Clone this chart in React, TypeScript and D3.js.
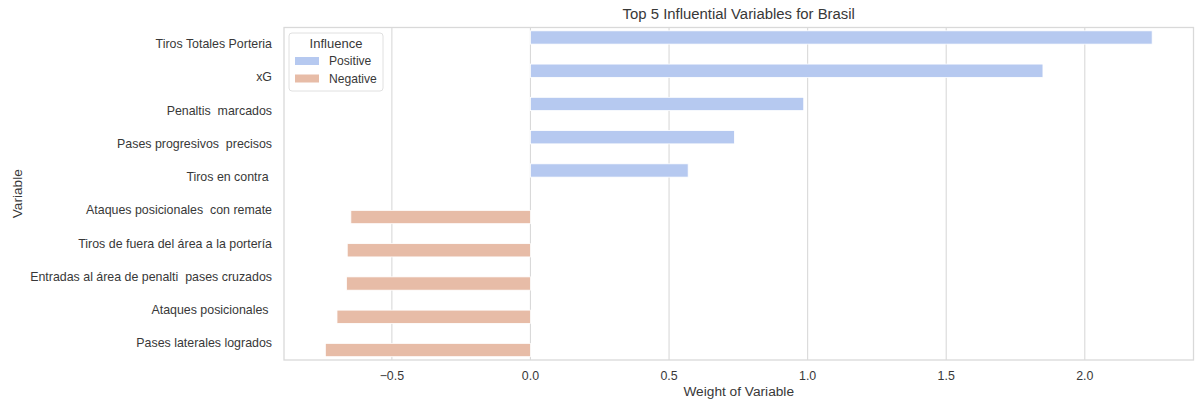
import React from "react";
import * as d3 from "d3";

const categories = [
  "Tiros Totales Porteria",
  "xG",
  "Penaltis  marcados",
  "Pases progresivos  precisos",
  "Tiros en contra ",
  "Ataques posicionales  con remate",
  "Tiros de fuera del área a la portería",
  "Entradas al área de penalti  pases cruzados",
  "Ataques posicionales ",
  "Pases laterales logrados",
];
const weights = [2.243, 1.849, 0.986, 0.736, 0.569, -0.648, -0.661, -0.664, -0.698, -0.740];
const influence = ["Positive", "Positive", "Positive", "Positive", "Positive", "Negative", "Negative", "Negative", "Negative", "Negative"];
const hueLevels = ["Positive", "Negative"];
const hueColors = ["#b6c9f0", "#e7bca7"];
const xTicks = [-0.5, 0, 0.5, 1.0, 1.5, 2.0];

const W = 1197;
const H = 400;
const M = { left: 284, right: 1193.5, top: 27.5, bottom: 360 };
const FONT = "'Liberation Sans', Arial, sans-serif";
const TXT = "#383838";
const GRID = "#d9d9d9";

export default function App() {
  const [lo, hi] = d3.extent(weights) as [number, number];
  const pad = (hi - lo) * 0.05;
  const x = d3.scaleLinear().domain([lo - pad, hi + pad]).range([M.left, M.right]);
  const y = d3.scaleLinear().domain([-0.5, categories.length - 0.5]).range([M.top, M.bottom]);
  const color = d3.scaleOrdinal<string, string>().domain(hueLevels).range(hueColors);
  const fmt = (v: number) => d3.format(".1f")(v).replace("-", "\u2212");
  const bw = 0.4;

  return (
    <svg width={W} height={H} style={{ position: "absolute", left: 0, top: 0, background: "#fff" }} fontFamily={FONT}>
      <rect x={0} y={0} width={W} height={H} fill="#fff" />
      {xTicks.map((t) => (
        <line key={t} x1={x(t)} x2={x(t)} y1={M.top} y2={M.bottom} stroke={GRID} strokeWidth={1.1} />
      ))}
      {categories.map((c, i) => {
        const h = influence[i];
        const hi2 = hueLevels.indexOf(h);
        const yc = i - 0.4 + hi2 * bw;
        const v = weights[i];
        const x0 = x(Math.min(0, v));
        const x1 = x(Math.max(0, v));
        return (
          <rect
            key={c}
            x={x0}
            y={y(yc)}
            width={x1 - x0}
            height={y(yc + bw) - y(yc)}
            fill={color(h)}
            stroke="#ffffff"
            strokeWidth={0.8}
          />
        );
      })}
      <rect x={M.left} y={M.top} width={M.right - M.left} height={M.bottom - M.top} fill="none" stroke={GRID} strokeWidth={1.3} />
      {categories.map((c, i) => (
        <text
          key={c}
          x={M.left - 12}
          y={y(i)}
          textAnchor="end"
          dominantBaseline="central"
          fontSize={12.4}
          fill={TXT}
          style={{ whiteSpace: "pre" }}
        >
          {c}
        </text>
      ))}
      {xTicks.map((t) => (
        <text key={t} x={x(t)} y={376} textAnchor="middle" dominantBaseline="central" fontSize={12.4} fill={TXT}>
          {fmt(t)}
        </text>
      ))}
      <text x={(M.left + M.right) / 2} y={391.5} textAnchor="middle" dominantBaseline="central" fontSize={13.7} fill={TXT}>
        Weight of Variable
      </text>
      <text
        transform={`translate(17,${(M.top + M.bottom) / 2}) rotate(-90)`}
        textAnchor="middle"
        dominantBaseline="central"
        fontSize={13.7}
        fill={TXT}
      >
        Variable
      </text>
      <text x={(M.left + M.right) / 2} y={13.5} textAnchor="middle" dominantBaseline="central" fontSize={14.9} fill={TXT}>
        Top 5 Influential Variables for Brasil
      </text>
      <g>
        <rect x={289} y={33} width={94} height={58} rx={3} fill="#fff" fillOpacity={0.85} stroke="#e0e0e0" strokeWidth={1} />
        <text x={336} y={43.5} textAnchor="middle" dominantBaseline="central" fontSize={13} fill={TXT}>
          Influence
        </text>
        {hueLevels.map((h, k) => (
          <g key={h}>
            <rect x={295} y={57 + k * 17.5} width={24} height={8} fill={color(h)} />
            <text x={329} y={61 + k * 17.5} dominantBaseline="central" fontSize={12.1} fill={TXT}>
              {h}
            </text>
          </g>
        ))}
      </g>
    </svg>
  );
}
